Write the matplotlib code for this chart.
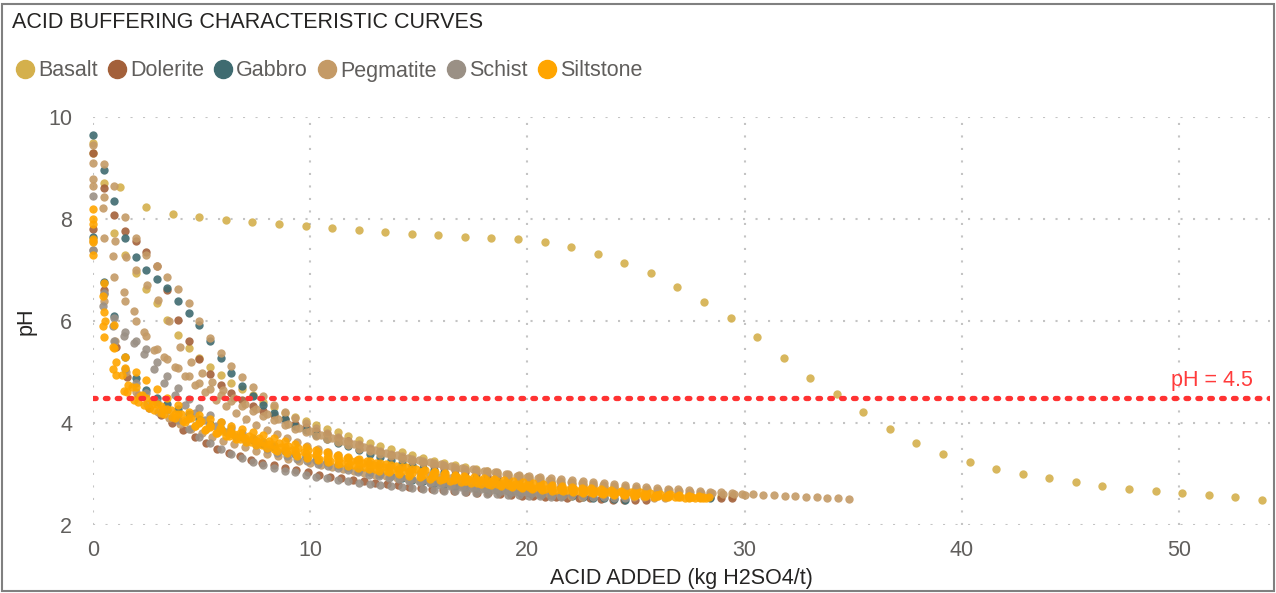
import matplotlib
matplotlib.use('Agg')
import matplotlib.pyplot as plt
import numpy as np
from matplotlib.lines import Line2D
from matplotlib.patches import Rectangle

# rock types, colours (legend order = draw order)
rocks = ['Basalt', 'Dolerite', 'Gabbro', 'Pegmatite', 'Schist', 'Siltstone']
colors = ['#D4B04C', '#A3603A', '#3F6B70', '#C49A66', '#9A9085', '#FFA500']

# each curve: acid dose increment (kg H2SO4/t per step) and pH readings
basalt_step = [1.223, 0.49]
basalt_ph = [
    [9.5, 8.63, 8.24, 8.10, 8.04, 7.98, 7.94, 7.90, 7.86, 7.82, 7.78, 7.75, 7.71, 7.69,
     7.65, 7.63, 7.61, 7.55, 7.45, 7.31, 7.14, 6.94, 6.67, 6.38, 6.06, 5.69, 5.27, 4.89,
     4.56, 4.22, 3.89, 3.60, 3.39, 3.23, 3.10, 3.00, 2.92, 2.84, 2.77, 2.71, 2.67, 2.62,
     2.58, 2.54, 2.50],
    [9.3, 8.7, 7.72, 7.3, 6.95, 6.62, 6.36, 6.02, 5.73, 5.48, 5.28, 5.1, 4.94, 4.79, 4.66,
     4.54, 4.42, 4.31, 4.2, 4.12, 4.04, 3.96, 3.89, 3.82, 3.75, 3.67, 3.61, 3.55, 3.49,
     3.43, 3.37, 3.31, 3.26, 3.21, 3.17, 3.13, 3.09, 3.05, 3.02, 2.99, 2.96, 2.93, 2.9,
     2.87, 2.85, 2.82, 2.8, 2.78, 2.76, 2.74, 2.72, 2.7, 2.68, 2.66, 2.64, 2.62, 2.61,
     2.59, 2.58, 2.57, 2.56],
]

dolerite_step = [0.49, 0.52]
dolerite_ph = [
    [9.3, 8.6, 8.08, 7.76, 7.57, 7.36, 7.08, 6.6, 6.02, 5.6, 5.25, 4.97, 4.75, 4.58, 4.45,
     4.34, 4.24, 4.15, 4.07, 3.99, 3.92, 3.85, 3.78, 3.71, 3.64, 3.57, 3.5, 3.44, 3.38,
     3.32, 3.26, 3.21, 3.16, 3.12, 3.08, 3.04, 3.0, 2.97, 2.94, 2.91, 2.88, 2.85, 2.82,
     2.8, 2.77, 2.75, 2.73, 2.71, 2.69, 2.67, 2.65, 2.63, 2.62, 2.6, 2.59, 2.57, 2.56,
     2.55, 2.54, 2.53, 2.52],
    [7.8, 6.6, 5.5, 4.9, 4.55, 4.3, 4.15, 4.0, 3.86, 3.72, 3.6, 3.5, 3.42, 3.35, 3.28,
     3.22, 3.17, 3.12, 3.07, 3.03, 2.99, 2.95, 2.92, 2.89, 2.86, 2.83, 2.8, 2.78, 2.75,
     2.73, 2.71, 2.69, 2.67, 2.65, 2.63, 2.62, 2.6, 2.59, 2.57, 2.56, 2.55, 2.54, 2.53,
     2.52, 2.52, 2.51, 2.5, 2.5, 2.49, 2.49],
]

gabbro_step = [0.49, 0.49]
gabbro_ph = [
    [9.65, 8.96, 8.35, 7.62, 7.25, 7.0, 6.82, 6.64, 6.4, 6.16, 5.92, 5.6, 5.27, 4.98, 4.72,
     4.52, 4.35, 4.2, 4.07, 3.95, 3.86, 3.77, 3.69, 3.61, 3.54, 3.47, 3.4, 3.34, 3.28,
     3.22, 3.17, 3.12, 3.07, 3.03, 2.99, 2.95, 2.92, 2.89, 2.86, 2.83, 2.8, 2.78, 2.76,
     2.74, 2.72, 2.7, 2.68, 2.66, 2.64, 2.62, 2.61, 2.6, 2.59, 2.58, 2.57, 2.56, 2.55,
     2.54, 2.53],
    [7.65, 6.77, 6.1, 5.3, 4.88, 4.65, 4.5, 4.38, 4.27, 4.17, 4.07, 3.98, 3.89, 3.81, 3.73,
     3.66, 3.59, 3.52, 3.46, 3.4, 3.34, 3.28, 3.23, 3.18, 3.13, 3.08, 3.04, 3.0, 2.96,
     2.92, 2.89, 2.86, 2.83, 2.8, 2.77, 2.75, 2.72, 2.7, 2.68, 2.66, 2.64, 2.62, 2.6,
     2.59, 2.57, 2.56, 2.54, 2.53, 2.52, 2.51, 2.5],
]

pegmatite_step = [0.49, 0.5, 0.47, 0.5, 0.49]
pegmatite_ph = [
    [9.45, 9.07, 8.65, 8.03, 7.62, 7.3, 7.07, 6.86, 6.62, 6.35, 6.0, 5.66, 5.37, 5.12, 4.9,
     4.7, 4.52, 4.36, 4.22, 4.09, 4.0, 3.9, 3.81, 3.73, 3.65, 3.58, 3.51, 3.45, 3.4, 3.35,
     3.3, 3.25, 3.21, 3.17, 3.13, 3.1, 3.07, 3.05, 3.03, 3.0, 2.98, 2.96, 2.94, 2.92, 2.9,
     2.88, 2.86, 2.84, 2.82, 2.8, 2.78, 2.76, 2.75, 2.73, 2.71, 2.7, 2.68, 2.67, 2.65,
     2.64, 2.62, 2.61, 2.6, 2.59, 2.58, 2.57, 2.56, 2.55, 2.54, 2.53, 2.52, 2.51],
    [9.1, 8.43, 7.56, 7.25, 7.0, 6.7, 6.41, 6.0, 5.5, 5.2, 4.98, 4.8, 4.64, 4.5, 4.38,
     4.27, 4.17, 4.08, 3.99, 3.91, 3.84, 3.77, 3.7, 3.64, 3.58, 3.52, 3.47, 3.42, 3.37,
     3.32, 3.28, 3.24, 3.2, 3.16, 3.12, 3.09, 3.06, 3.03, 3.0, 2.97, 2.94, 2.92, 2.89,
     2.87, 2.85, 2.83, 2.81, 2.79, 2.77, 2.75, 2.73, 2.71, 2.69, 2.68, 2.66, 2.65, 2.63,
     2.62, 2.61, 2.6, 2.59],
    [8.78, 8.22, 7.27, 6.56, 6.2, 5.79, 5.43, 5.3, 5.1, 4.92, 4.75, 4.6, 4.46, 4.33, 4.2,
     4.08, 3.97, 3.87, 3.78, 3.7, 3.62, 3.55, 3.49, 3.43, 3.37, 3.32, 3.27, 3.22, 3.17,
     3.13, 3.09, 3.05, 3.01, 2.98, 2.95, 2.92, 2.89, 2.86, 2.83, 2.81, 2.78, 2.76, 2.74,
     2.72, 2.7, 2.68, 2.66, 2.64, 2.62, 2.61, 2.59, 2.58, 2.56, 2.55, 2.54, 2.53, 2.52],
    [7.56, 6.4, 5.6, 5.0, 4.6, 4.38, 4.22, 4.1, 3.99, 3.89, 3.8, 3.72, 3.65, 3.58, 3.52,
     3.46, 3.4, 3.35, 3.3, 3.25, 3.21, 3.17, 3.13, 3.09, 3.05, 3.02, 2.99, 2.96, 2.93,
     2.9, 2.87, 2.84, 2.82, 2.79, 2.77, 2.75, 2.72, 2.7, 2.68, 2.66, 2.64, 2.62, 2.6,
     2.58, 2.56, 2.55],
    [8.65, 7.62, 6.86, 6.4, 6.0, 5.7, 5.45, 5.25, 5.08, 4.93, 4.79, 4.66, 4.54, 4.43, 4.33,
     4.23, 4.14, 4.05, 3.97, 3.89, 3.82, 3.75, 3.68, 3.62, 3.56, 3.5, 3.45, 3.4, 3.35,
     3.3, 3.26, 3.22, 3.18, 3.14, 3.1, 3.07, 3.04, 3.01, 2.98, 2.95, 2.92, 2.9, 2.87,
     2.85, 2.83, 2.81, 2.79, 2.77, 2.75, 2.73, 2.71, 2.7, 2.68, 2.67, 2.65, 2.64, 2.63,
     2.62, 2.61],
]

schist_step = [0.49, 0.49, 0.47]
schist_ph = [
    [8.45, 6.52, 6.05, 5.78, 5.6, 5.45, 5.2, 4.92, 4.68, 4.48, 4.3, 4.15, 4.02, 3.9, 3.8,
     3.7, 3.62, 3.54, 3.47, 3.4, 3.34, 3.28, 3.23, 3.18, 3.13, 3.09, 3.05, 3.01, 2.97,
     2.94, 2.91, 2.88, 2.85, 2.82, 2.8, 2.77, 2.75, 2.73, 2.71, 2.69, 2.67, 2.65, 2.63,
     2.62, 2.6, 2.58, 2.57, 2.55, 2.54, 2.53, 2.52],
    [7.4, 6.55, 5.6, 5.05, 4.78, 4.59, 4.42, 4.25, 4.06, 3.88, 3.73, 3.61, 3.49, 3.39,
     3.31, 3.24, 3.18, 3.12, 3.06, 3.03, 2.98, 2.95, 2.92, 2.89, 2.86, 2.83, 2.81, 2.79,
     2.77, 2.75, 2.73, 2.71, 2.69, 2.67, 2.66, 2.64, 2.63, 2.61, 2.6, 2.59, 2.58, 2.57,
     2.56, 2.55, 2.54],
    [7.39, 6.3, 5.9, 5.7, 5.56, 5.35, 5.05, 4.78, 4.55, 4.36, 4.2, 4.06, 3.94, 3.83, 3.73,
     3.64, 3.56, 3.49, 3.42, 3.36, 3.3, 3.25, 3.2, 3.15, 3.11, 3.07, 3.03, 2.99, 2.96,
     2.93, 2.9, 2.87, 2.84, 2.82, 2.79, 2.77, 2.75, 2.73, 2.71, 2.69, 2.67, 2.65, 2.64,
     2.62, 2.61, 2.59, 2.58],
]

siltstone_step = [0.49, 0.49, 0.52, 0.47, 0.45, 0.54]
siltstone_ph = [
    [8.2, 6.75, 5.92, 5.3, 5.0, 4.84, 4.66, 4.5, 4.35, 4.22, 4.15, 4.08, 4.02, 3.95, 3.88,
     3.82, 3.76, 3.7, 3.64, 3.58, 3.53, 3.48, 3.43, 3.38, 3.33, 3.29, 3.25, 3.21, 3.17,
     3.13, 3.1, 3.06, 3.03, 3.0, 2.97, 2.94, 2.91, 2.88, 2.86, 2.83, 2.81, 2.79, 2.77,
     2.75, 2.73, 2.71, 2.69, 2.68, 2.66, 2.65, 2.63, 2.62, 2.6, 2.59, 2.58, 2.57, 2.56,
     2.55],
    [8.0, 6.18, 5.47, 5.07, 4.7, 4.5, 4.38, 4.27, 4.18, 4.1, 4.02, 3.95, 3.88, 3.81, 3.75,
     3.69, 3.63, 3.57, 3.52, 3.47, 3.42, 3.37, 3.32, 3.28, 3.24, 3.2, 3.16, 3.12, 3.08,
     3.05, 3.02, 2.99, 2.96, 2.93, 2.9, 2.87, 2.85, 2.82, 2.8, 2.78, 2.76, 2.74, 2.72,
     2.7, 2.68, 2.67, 2.65, 2.63, 2.62, 2.6, 2.59, 2.58, 2.57, 2.56, 2.55, 2.54, 2.53,
     2.52],
    [7.55, 5.68, 4.95, 4.6, 4.42, 4.3, 4.2, 4.11, 4.03, 3.95, 3.88, 3.81, 3.74, 3.68, 3.62,
     3.56, 3.5, 3.45, 3.4, 3.35, 3.3, 3.26, 3.22, 3.18, 3.14, 3.1, 3.06, 3.03, 3.0, 2.97,
     2.94, 2.91, 2.88, 2.86, 2.83, 2.81, 2.79, 2.77, 2.75, 2.73, 2.71, 2.69, 2.68, 2.66,
     2.64, 2.63, 2.61, 2.6, 2.59, 2.58, 2.57, 2.56, 2.55, 2.54, 2.53],
    [7.3, 5.9, 5.05, 4.62, 4.45, 4.35, 4.26, 4.17, 4.09, 4.01, 3.94, 3.87, 3.8, 3.74, 3.68,
     3.62, 3.56, 3.51, 3.46, 3.41, 3.36, 3.32, 3.28, 3.24, 3.2, 3.16, 3.12, 3.09, 3.06,
     3.03, 3.0, 2.97, 2.94, 2.91, 2.89, 2.86, 2.84, 2.82, 2.8, 2.78, 2.76, 2.74, 2.72,
     2.71, 2.69, 2.67, 2.66, 2.64, 2.63, 2.62, 2.6, 2.59, 2.58, 2.57, 2.56, 2.55, 2.54,
     2.54, 2.53, 2.52, 2.52],
    [7.9, 6.5, 5.5, 4.95, 4.7, 4.55, 4.44, 4.34, 4.25, 4.17, 4.1, 4.03, 3.97, 3.91, 3.85,
     3.8, 3.75, 3.7, 3.65, 3.6, 3.55, 3.51, 3.47, 3.43, 3.39, 3.35, 3.31, 3.28, 3.25,
     3.22, 3.19, 3.16, 3.13, 3.1, 3.07, 3.04, 3.01, 2.99, 2.97, 2.95, 2.93, 2.91, 2.89,
     2.87, 2.85, 2.83, 2.81, 2.79, 2.77, 2.75, 2.73, 2.72, 2.7, 2.68, 2.67, 2.65, 2.64,
     2.62, 2.61, 2.6, 2.58, 2.57, 2.56, 2.55],
    [7.6, 6.0, 5.2, 4.75, 4.52, 4.38, 4.27, 4.17, 4.08, 4.0, 3.92, 3.85, 3.78, 3.71, 3.65,
     3.59, 3.53, 3.48, 3.43, 3.38, 3.33, 3.29, 3.25, 3.21, 3.17, 3.13, 3.09, 3.06, 3.03,
     3.0, 2.97, 2.94, 2.91, 2.88, 2.86, 2.83, 2.81, 2.79, 2.77, 2.75, 2.73, 2.71, 2.69,
     2.67, 2.65, 2.64, 2.62, 2.61, 2.59, 2.58, 2.56, 2.55, 2.54],
]

ph_limit = 4.5

all_steps = [basalt_step, dolerite_step, gabbro_step, pegmatite_step, schist_step, siltstone_step]
all_ph = [basalt_ph, dolerite_ph, gabbro_ph, pegmatite_ph, schist_ph, siltstone_ph]

plt.rcParams['font.family'] = ['Liberation Sans', 'DejaVu Sans']
FS = 15.5

W, H = 1276, 593
fig = plt.figure(figsize=(W / 100, H / 100), dpi=100)
ax = fig.add_axes([93 / W, 1 - 525 / H, (1270 - 93) / W, (525 - 117) / H])

for rock, col, steps, curves in zip(rocks, colors, all_steps, all_ph):
    for step, ph in zip(steps, curves):
        dose = np.arange(len(ph)) * step
        ax.scatter(dose, ph, s=36, color=col, alpha=0.9, linewidths=0,
                   clip_on=False, zorder=3)

ax.axhline(ph_limit, color='#FF3333', lw=3.8, linestyle=(0, (0.5, 1.75)),
           dash_capstyle='round', zorder=4)
ax.text(53.4, 4.84, 'pH = 4.5', color='#FF3B3B', fontsize=FS,
        ha='right', va='center', zorder=5)

ax.set_xlim(0, 54.19)
ax.set_ylim(2, 10)
ax.set_xticks([0, 10, 20, 30, 40, 50])
ax.set_yticks([2, 4, 6, 8, 10])
ax.grid(True, color='#c4c4c4', linestyle=(0, (1, 5)), linewidth=1.5)
ax.set_axisbelow(True)
for sp in ax.spines.values():
    sp.set_visible(False)
ax.tick_params(length=0, labelsize=FS, labelcolor='#605E5C')
ax.tick_params(axis='y', pad=15)
ax.tick_params(axis='x', pad=11)
ax.set_xlabel('ACID ADDED (kg H2SO4/t)', fontsize=FS, color='#252423', labelpad=5)
ax.set_ylabel('pH', fontsize=FS, color='#252423', labelpad=8)

fig.text(12 / W, 1 - 22 / H, 'ACID BUFFERING CHARACTERISTIC CURVES', fontsize=FS,
         color='#252423', ha='left', va='center')

handles = [Line2D([], [], marker='o', linestyle='', markersize=13, color=c) for c in colors]
fig.legend(handles, rocks, loc='center left', bbox_to_anchor=(8 / W, 1 - 71 / H),
           ncol=6, frameon=False, fontsize=FS, labelcolor='#605E5C',
           handlelength=0.8, handletextpad=0.2, columnspacing=0.5, borderaxespad=0)

fig.patches.append(Rectangle((2 / W, 2 / H), 1 - 4 / W, 1 - 6 / H, transform=fig.transFigure,
                             fill=False, edgecolor='#808080', lw=1.5))

fig.savefig('out.png', dpi=100)
